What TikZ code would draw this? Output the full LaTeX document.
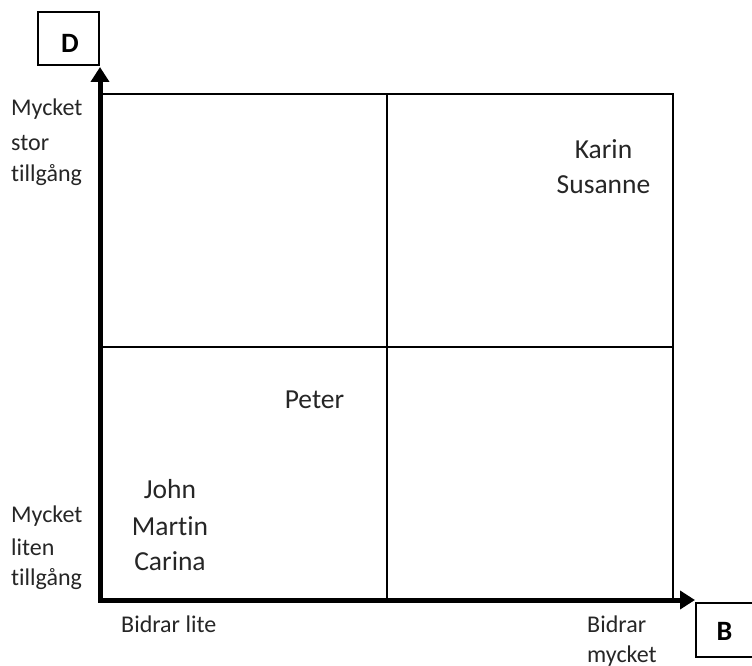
\documentclass[tikz,border=0pt]{standalone}
\usepackage{fontspec}
\setmainfont{Carlito}[Ligatures=NoCommon]
\usetikzlibrary{arrows.meta}
\definecolor{txt}{RGB}{38,38,38}
\begin{document}
\begin{tikzpicture}[x=1pt,y=-1pt,
  lbl/.style={font=\fontsize{24}{28}\selectfont,text=txt,inner sep=0pt,anchor=base west},
  person/.style={font=\fontsize{27.5}{32}\selectfont,text=txt,inner sep=0pt,anchor=base},
  axlbl/.style={font=\bfseries\fontsize{28}{30}\selectfont,text=black,inner sep=0pt},
  abox/.style={draw=black,line width=1.4pt,rectangle,inner sep=0pt},
  grid line/.style={draw=black,line width=1.5pt},
  axis/.style={draw=black,line width=5pt,line join=miter,
    {Triangle[length=15pt,width=18pt]}-{Triangle[length=15pt,width=18pt]}}]
\useasboundingbox (0,0) rectangle (752,666);
% quadrant grid
\coordinate (TL) at (100,94);
\coordinate (BR) at (673,600);
\coordinate (MT) at (387,94);
\coordinate (MB) at (387,600);
\coordinate (ML) at (100,347);
\coordinate (MR) at (673,347);
\draw[grid line] (TL) rectangle (BR);
\draw[grid line] (MT) -- (MB);
\draw[grid line] (ML) -- (MR);
% axes
\coordinate (O) at (100,600);
\coordinate (Ytip) at (100,67);
\coordinate (Xtip) at (695,600);
\draw[axis] (Ytip) -- (O) -- (Xtip);
% axis boxes
\node[abox,minimum width=61pt,minimum height=53pt] (Dbox) at (68.5,38.5) {};
\node[axlbl] (D) at (70,43) {D};
\node[abox,minimum width=64pt,minimum height=54pt] (Bbox) at (728,630) {};
\node[axlbl] (B) at (724.5,631.5) {B};
% left labels
\node[lbl] (s1) at (11,116) {Mycket};
\node[lbl] (s2) at (11,150) {stor};
\node[lbl] (s3) at (11,181) {tillgång};
\node[lbl] (l1) at (11,522) {Mycket};
\node[lbl] (l2) at (11,555) {liten};
\node[lbl] (l3) at (11,585) {tillgång};
% bottom labels
\node[lbl] (bl) at (121,632) {Bidrar lite};
\node[lbl] (bm1) at (587,632) {Bidrar};
\node[lbl] (bm2) at (587,662) {mycket};
% names
\node[person] (karin) at (603.5,158) {Karin};
\node[person] (susanne) at (603.5,193) {Susanne};
\node[person] (peter) at (314.5,408) {Peter};
\node[person] (john) at (170,498) {John};
\node[person] (martin) at (170,535) {Martin};
\node[person] (carina) at (170,570) {Carina};
\end{tikzpicture}
\end{document}
